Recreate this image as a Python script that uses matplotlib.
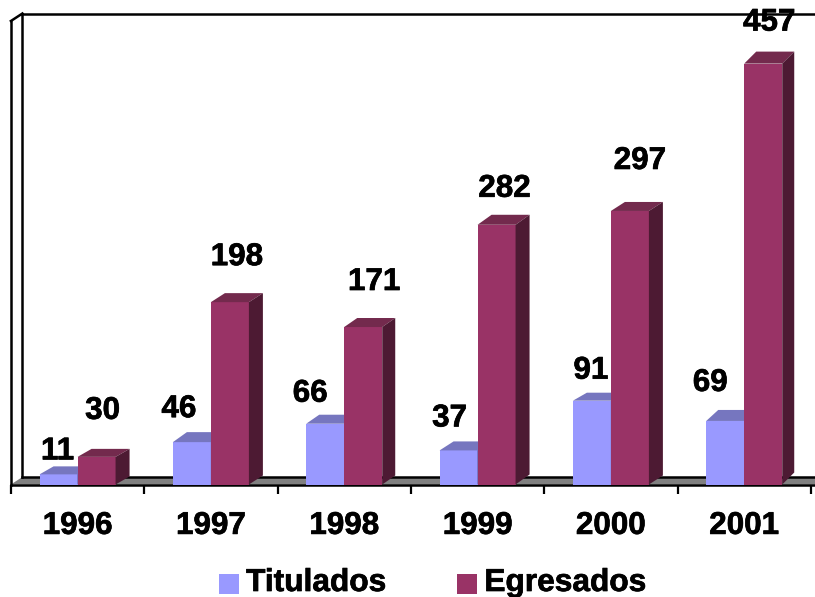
import matplotlib
matplotlib.use('Agg')
import matplotlib.pyplot as plt
import numpy as np
import matplotlib.patheffects as pe
from matplotlib.patches import Polygon

plt.rcParams['font.family'] = ['Liberation Sans', 'DejaVu Sans']
plt.rcParams['font.weight'] = 'bold'

years = ['1996', '1997', '1998', '1999', '2000', '2001']
titulados = [11, 46, 66, 37, 91, 69]
egresados = [30, 198, 171, 282, 297, 457]

# label offsets from the bar's top centre, in pixels
tit_offset_x = [-1, -13, -15, -9, -1, -15]
tit_offset_y = [23, 33, 30, 32, 30, 38]
egr_offset_x = [6, 7, 11, 8, 10, 6]
egr_offset_y = [46, 45, 45, 36, 50, 41]

# depth of the top faces per bar, in pixels (the original has some perspective)
tit_depth_y = [8, 10, 9, 9, 8, 11]
egr_depth_y = [8, 9, 9, 10, 9, 12]
depth_x = [14, 14, 13, 14, 14, 12]

color_tit = '#9999FF'
color_tit_top = '#7676BF'
color_tit_side = '#4F4F85'
color_egr = '#993366'
color_egr_top = '#732A4D'
color_egr_side = '#4D1A33'

W, H = 815, 597
px_per_unit = 0.921
px_per_cat = 800 / 6
base_y = 484.5
wall_top = 21
plot_top = (base_y - wall_top) / px_per_unit
label_size = 22.6

fig = plt.figure(figsize=(W / 100, H / 100), dpi=100)
ax = fig.add_axes([10.9 / W, (H - base_y) / H, 800 / W, (base_y - wall_top) / H])
ax.set_xlim(0, 6)
ax.set_ylim(0, plot_top)

wall_dx = 11.5 / px_per_cat
wall_dy = 7.5 / px_per_unit
bar_w = 38 / px_per_cat
stroke = [pe.withStroke(linewidth=0.5, foreground='black')]

# wall and floor
ax.add_patch(Polygon([(0, 0), (wall_dx, wall_dy), (6.1, wall_dy), (6.03, 0)], fc='#808080', ec='none',
                     clip_on=False, zorder=1))
line = dict(color='black', lw=1.8, clip_on=False, zorder=2, solid_capstyle='projecting')
ax.plot([wall_dx, wall_dx], [wall_dy, plot_top + wall_dy], **line)
ax.plot([0, wall_dx], [plot_top, plot_top + wall_dy], **line)
ax.plot([wall_dx, 6.1], [plot_top + wall_dy, plot_top + wall_dy], **line)
ax.plot([wall_dx, 6.1], [wall_dy, wall_dy], **line)
ax.plot([0, 6.1], [-0.6, -0.6], **line)


def draw_bars(x, values, depth_y, front, top, side, z, label):
    bars = ax.bar(x, values, bar_w, color=front, zorder=z, label=label)
    for i in range(len(values)):
        xi, v = x[i], values[i]
        dx = depth_x[i] / px_per_cat
        dy = depth_y[i] / px_per_unit
        l, r = xi - bar_w / 2, xi + bar_w / 2
        ax.add_patch(Polygon([(l, v), (l + dx, v + dy), (r + dx, v + dy), (r, v)],
                             fc=top, ec='none', clip_on=False, zorder=z))
        ax.add_patch(Polygon([(r, 0), (r + dx, dy), (r + dx, v + dy), (r, v)],
                             fc=side, ec='none', clip_on=False, zorder=z))
    return bars


centers = np.arange(6) + 0.5
draw_bars(centers - bar_w / 2, titulados, tit_depth_y, color_tit, color_tit_top, color_tit_side, 3, 'Titulados')
draw_bars(centers + bar_w / 2, egresados, egr_depth_y, color_egr, color_egr_top, color_egr_side, 4, 'Egresados')

for i in range(6):
    ax.annotate(str(titulados[i]), (centers[i] - bar_w / 2, titulados[i]),
                xytext=(tit_offset_x[i], tit_offset_y[i]), textcoords='offset pixels',
                ha='center', va='center', fontsize=label_size, zorder=6, annotation_clip=False,
                path_effects=stroke)
    ax.annotate(str(egresados[i]), (centers[i] + bar_w / 2, egresados[i]),
                xytext=(egr_offset_x[i], egr_offset_y[i]), textcoords='offset pixels',
                ha='center', va='center', fontsize=label_size, zorder=6, annotation_clip=False,
                path_effects=stroke)

for s in ['top', 'right', 'bottom']:
    ax.spines[s].set_visible(False)
ax.spines['left'].set_linewidth(1.8)
ax.set_yticks([])
ax.set_xticks(np.arange(7))
ax.set_xticklabels([])
ax.tick_params(axis='x', which='major', length=6.5, width=1.6)
ax.set_xticks(centers, minor=True)
ax.set_xticklabels(years, minor=True, fontsize=label_size, fontweight='bold', path_effects=stroke)
ax.tick_params(axis='x', which='minor', length=0, pad=19)

leg = ax.legend(loc='center', bbox_to_anchor=(432.5 / W, (H - 583) / H), bbox_transform=fig.transFigure,
                ncol=2, frameon=False, fontsize=22.8, handlelength=0.63, handleheight=0.63,
                handletextpad=0.22, columnspacing=2.25, borderpad=0, borderaxespad=0)
for t in leg.get_texts():
    t.set_path_effects(stroke)
# legend squares sit a little lower than the text in the original
for p in leg.get_patches():
    p.set_y(p.get_y() - 3)

fig.savefig('out.png', dpi=100)
